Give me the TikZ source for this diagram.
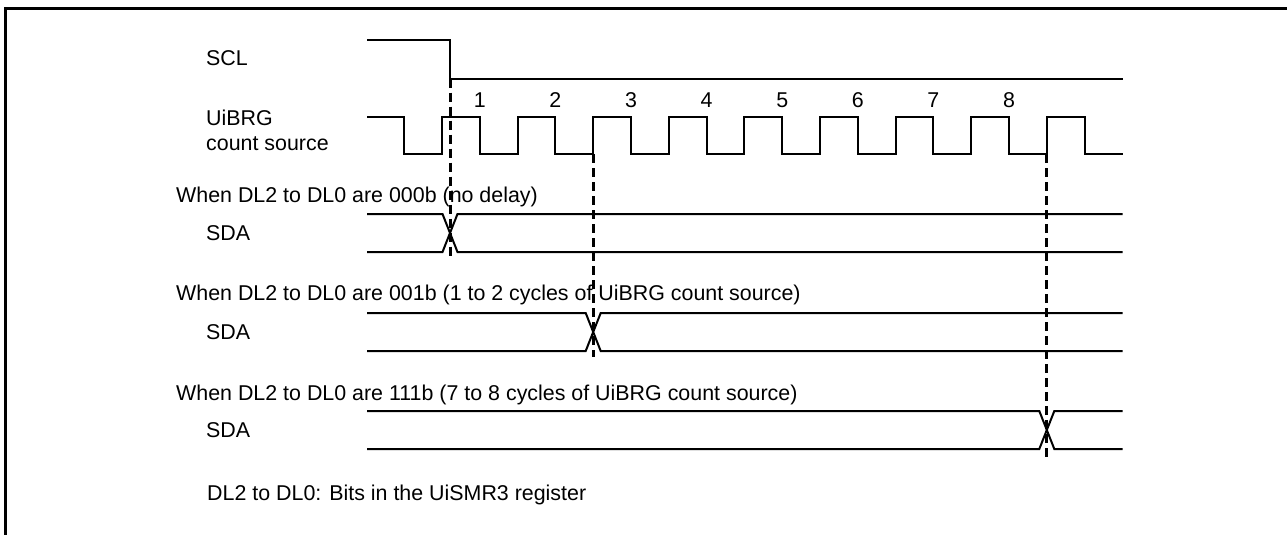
\documentclass[tikz,border=0pt]{standalone}
\usepackage{fontspec}
\setmainfont{Liberation Sans}
\begin{document}
\begin{tikzpicture}[x=1pt,y=-1pt,
  wave/.style={line width=2pt},
  guide/.style={line width=3pt, dash pattern=on 9pt off 5pt},
  frame/.style={line width=3.2pt},
  lbl/.style={anchor=base west, inner sep=0pt, font=\fontsize{21.4}{25}\selectfont},
  num/.style={anchor=base, inner sep=0pt, font=\fontsize{21.4}{25}\selectfont}]
\useasboundingbox (0,0) rectangle (1287,535);
% frame (left and top)
\draw[frame] (5.3,535) -- (5.3,8.7) -- (1287,8.7);
% labels
\node[lbl] (scl) at (206,66) {SCL};
\node[lbl] (brg1) at (206,125) {UiBRG};
\node[lbl] (brg2) at (206,150.5) {count source};
\node[lbl] (w1) at (176,202) {When DL2 to DL0 are 000b (no delay)};
\node[lbl] (sda1) at (206,240) {SDA};
\node[lbl] (w2) at (176,300) {When DL2 to DL0 are 001b (1 to 2 cycles of UiBRG count source)};
\node[lbl] (sda2) at (206,339) {SDA};
\node[lbl] (w3) at (176,400) {When DL2 to DL0 are 111b (7 to 8 cycles of UiBRG count source)};
\node[lbl] (sda3) at (206,437.5) {SDA};
\node[lbl] (note) at (207,500.5) {DL2 to DL0: Bits in the UiSMR3 register};
% SCL
\draw[wave] (367,40.3) -- (450,40.3) -- (450,78.7) -- (1122.5,78.7);
% clock
\draw[wave] (367,116.7)
  \foreach \k in {0,...,8} {
    -- ({404.2+75.6*\k},116.7) -- ({404.2+75.6*\k},154)
    -- ({442+75.6*\k},154) -- ({442+75.6*\k},116.7)
  }
  -- (1084.6,116.7) -- (1084.6,154) -- (1122.5,154);
% cycle numbers
\foreach \k in {1,...,8} {
  \node[num] (n\k) at ({404.2+75.6*\k},107.3) {\k};
}
% SDA waveforms
\foreach \c/\ya/\yb in {450/214/252, 593.2/313/351, 1046.8/411/449} {
  \draw[wave] (367,\ya) -- ({\c-7.5},\ya) -- ({\c+7.5},\yb) -- (1122.5,\yb);
  \draw[wave] (367,\yb) -- ({\c-7.5},\yb) -- ({\c+7.5},\ya) -- (1122.5,\ya);
}
% dashed guides
\coordinate (g1a) at (450,78.7);   \coordinate (g1b) at (450,258);
\coordinate (g2a) at (593.2,154);  \coordinate (g2b) at (593.2,357);
\coordinate (g3a) at (1046.8,154); \coordinate (g3b) at (1046.8,457);
\draw[guide] (g1a) -- (g1b);
\draw[guide] (g2a) -- (g2b);
\draw[guide] (g3a) -- (g3b);
\end{tikzpicture}
\end{document}
